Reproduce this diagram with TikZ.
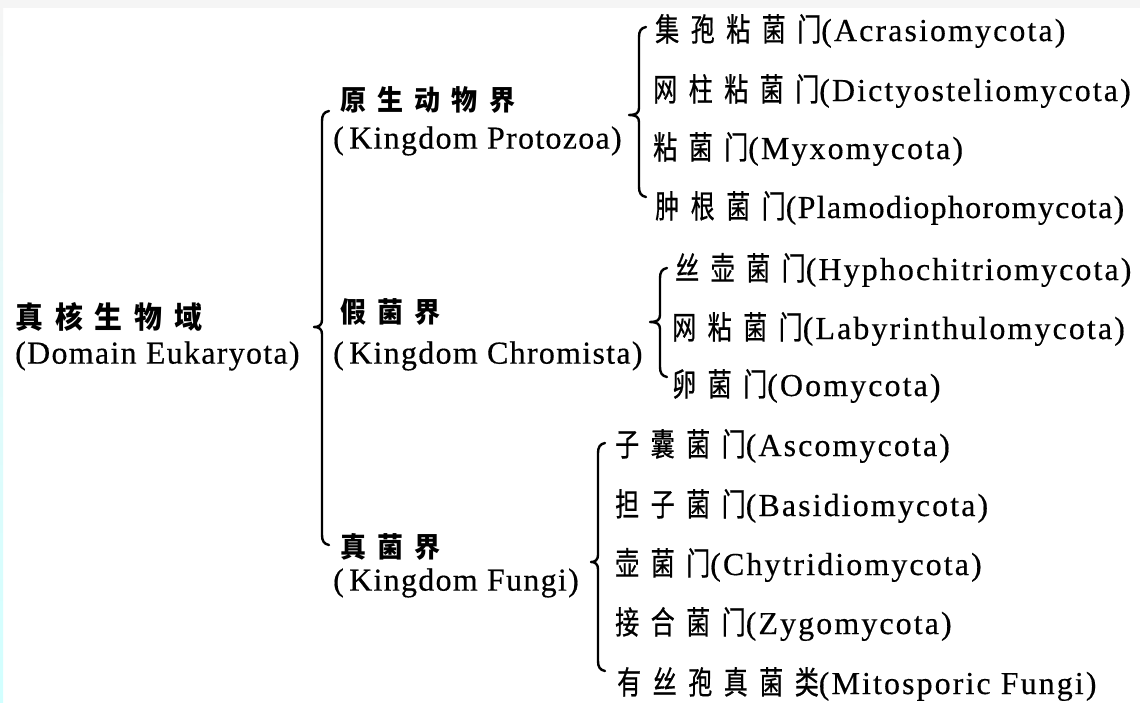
\documentclass[tikz,border=0pt]{standalone}
\usepackage{fontspec}
\setmainfont{Liberation Serif}
\newfontfamily\cjkp[FakeStretch=0.75,LetterSpace=36,FakeBold=0.6]{Noto Sans CJK SC}
\newfontfamily\cjkk[FakeStretch=0.93,LetterSpace=40]{Noto Sans CJK SC}
\newfontfamily\cjkd[FakeStretch=0.93,LetterSpace=40]{Noto Sans CJK SC}
\newfontfamily\latp[LetterSpace=6.5,FakeBold=0.4]{Liberation Serif}
\newfontfamily\latq[LetterSpace=4,FakeBold=0.4]{Liberation Serif}
\newfontfamily\latk[LetterSpace=4,FakeBold=0.4]{Liberation Serif}
\newcommand\drawbrace[5]{%
\draw[brace] ({#1+7},{#2-4}) .. controls ({#1+2},{#2-3}) and (#1,{#2}) .. (#1,{#2+6})
  -- (#1,{#3-7}) .. controls (#1,{#3-2}) and ({#1-3},{#3}) .. ({#1-#5},#3)
  .. controls ({#1-3},{#3}) and (#1,{#3+2}) .. (#1,{#3+7})
  -- (#1,{#4-6}) .. controls (#1,{#4}) and ({#1+2},{#4+3}) .. ({#1+7},{#4+4});}
\tikzset{
  ph/.style={anchor=west, inner sep=0pt, font=\fontsize{32}{36}\selectfont\latp},
  kg/.style={anchor=west, inner sep=0pt, font=\fontsize{28}{32}\selectfont\cjkk\bfseries},
  dg/.style={anchor=west, inner sep=0pt, font=\fontsize{30}{34}\selectfont\cjkd\bfseries},
  kl/.style={anchor=west, inner sep=0pt, font=\fontsize{32}{36}\selectfont\latk},
  brace/.style={line width=2.4pt, line cap=round, line join=round}
}
\begin{document}
\begin{tikzpicture}[x=1pt,y=-1pt]
\useasboundingbox (0,0) rectangle (1140,703);
\fill[white] (0,0) rectangle (1140,703);
\fill[black!4] (0,0) rectangle (1140,8);
\shade[top color=black!4, bottom color=cyan!18] (0,8) rectangle (3,703);
% domain
\node[dg] (d1) at (15,317) {真核生物域};
\node[kl] (d2) at (15,356) {(Domain Eukaryota)};
% kingdoms
\node[kg] (k1) at (340,100) {原生动物界};
\node[kl] (k1l) at (333,141) {(\,Kingdom Protozoa)};
\node[kg] (k2) at (340,312) {假菌界};
\node[kl] (k2l) at (333,356) {(\,Kingdom Chromista)};
\node[kg] (k3) at (340,547) {真菌界};
\node[kl] (k3l) at (333,583) {(\,Kingdom Fungi)};
% phyla group 1
\node[ph] (p1) at (655,31) {{\cjkp 集孢粘菌门}(Acrasiomycota)};
\node[ph] (p2) at (653,91) {{\cjkp 网柱粘菌门}(Dictyosteliomycota)};
\node[ph] (p3) at (653,149) {{\cjkp 粘菌门}(Myxomycota)};
\node[ph] (p4) at (655,208) {{\cjkp 肿根菌门}{\latq (Plamodiophoromycota)}};
% group 2
\node[ph] (p5) at (675,270) {{\cjkp 丝壶菌门}(Hyphochitriomycota)};
\node[ph] (p6) at (672,329) {{\cjkp 网粘菌门}(Labyrinthulomycota)};
\node[ph] (p7) at (672,386) {{\cjkp 卵菌门}(Oomycota)};
% group 3
\node[ph] (p8) at (615,446) {{\cjkp 子囊菌门}(Ascomycota)};
\node[ph] (p9) at (615,506) {{\cjkp 担子菌门}(Basidiomycota)};
\node[ph] (p10) at (615,565) {{\cjkp 壶菌门}(Chytridiomycota)};
\node[ph] (p11) at (615,624) {{\cjkp 接合菌门}(Zygomycota)};
\node[ph] (p12) at (617,684) {{\cjkp 有丝孢真菌类}(Mitosporic Fungi)};
% braces
\drawbrace{322}{115}{327}{541}{8}
\drawbrace{639}{31}{115}{193}{10}
\drawbrace{660}{272}{322}{373}{10}
\drawbrace{598}{447}{562}{667}{7}
\end{tikzpicture}
\end{document}
